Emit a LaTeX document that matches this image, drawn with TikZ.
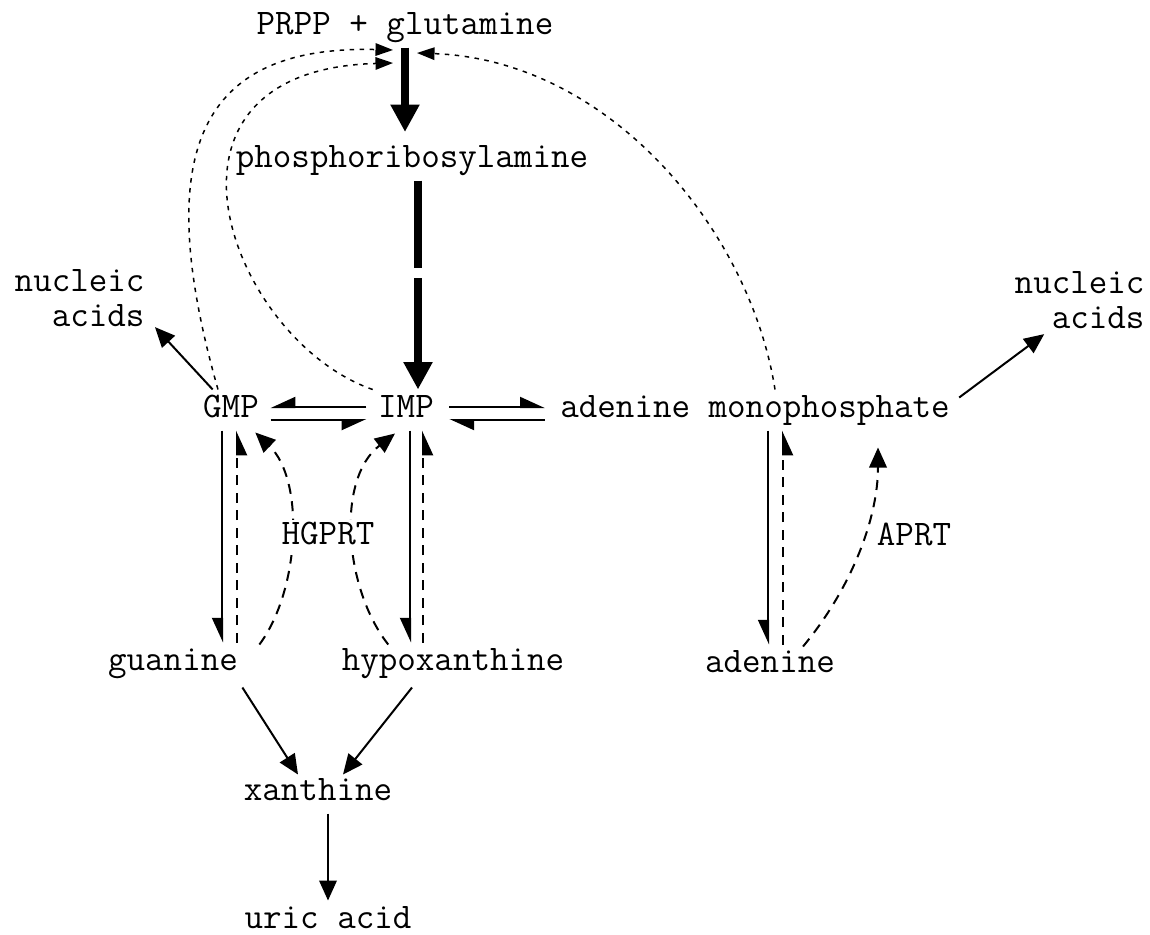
\documentclass[tikz,border=0pt]{standalone}
\usepackage{tikz}
\usetikzlibrary{arrows.meta, positioning, calc}

\begin{document}
\begin{tikzpicture}[x=0.4pt, y=-0.4pt,
    chem/.style={font=\ttfamily\fontsize{14.4}{14}\selectfont, inner sep=2pt, text height=9pt, text depth=3pt},
    chemml/.style={font=\ttfamily\fontsize{14.4}{14}\selectfont, inner sep=2pt, align=right},
    conv/.style={line width=0.8pt, -{Triangle[length=8pt,width=7pt]}},
    harp/.style={line width=0.8pt, shorten <=2.5pt, shorten >=2.5pt, -{Triangle[right,length=9pt,width=8pt]}},
    harpl/.style={line width=0.8pt, shorten <=4pt, shorten >=4pt, -{Triangle[left,length=9pt,width=8pt]}},
    harpv/.style={line width=0.8pt, -{Triangle[right,length=9pt,width=8pt]}},
    salv/.style={line width=0.8pt, dash pattern=on 4pt off 3pt, -{Triangle[length=8pt,width=7pt]}},
    salvh/.style={salv, -{Triangle[right,length=9pt,width=8pt]}},
    feedback/.style={line width=0.6pt, dash pattern=on 1.8pt off 2.2pt, -{Triangle[length=7pt,width=5pt]}},
    denovo/.style={line width=3.5pt, -{Triangle[length=11pt,width=11pt]}}]
    \useasboundingbox (0,0) rectangle (1150,934);
    % 代谢物
    \node[chem] (prpp) at (405,27) {PRPP + glutamine};
    \node[chem] (pra) at (412,160) {phosphoribosylamine};
    \node[chem] (gmp) at (231,410) {GMP};
    \node[chem] (imp) at (406,410) {IMP};
    \node[chem] (amp) at (755,410) {adenine monophosphate};
    \node[chemml, anchor=east] (nal) at (150,298) {nucleic\\acids};
    \node[chemml, anchor=east] (nar) at (1150,300) {nucleic\\acids};
    \node[chem] (gua) at (173,663) {guanine};
    \node[chem] (hyp) at (453,663) {hypoxanthine};
    \node[chem] (ade) at (770,665) {adenine};
    \node[chem] (xan) at (318,793) {xanthine};
    \node[chem] (uric) at (328,921) {uric acid};
    \node[chem] (aprt) at (914,538) {APRT};

    % 从头合成
    \draw[denovo, shorten >=3pt] (prpp.south) -- (prpp.south |- pra.north);
    \coordinate (gapT) at (418,268);
    \coordinate (gapB) at (418,278);
    \draw[line width=3.5pt] (gapT |- pra.south) -- (gapT);
    \draw[denovo] (gapB) -- (gapB |- imp.north);

    % 反馈抑制
    \coordinate (fbG) at (393,50);
    \coordinate (fbI) at (393,63);
    \coordinate (fbA) at (417,53);
    \draw[feedback] ($(gmp.north)+(-13,0)$) .. controls (150,150) and (200,45) .. (fbG);
    \draw[feedback] (imp.north west) .. controls (230,340) and (130,70) .. (fbI);
    \draw[feedback] ($(amp.north)+(20,0)$) .. controls (750,230) and (610,60) .. (fbA);

    \draw[conv] ($(gmp.north west)+(15,0)$) -- ($(nal.south east)+(5,-5)$);
    \draw[conv] ($(amp.north east)+(4,8)$) -- ($(nar.south west)+(35,0)$);

    % 可逆反应
    \draw[harp] ($(imp.west)+(0,-3)$) -- ($(gmp.east)+(0,-3)$);
    \draw[harp] ($(gmp.east)+(0,10)$) -- ($(imp.west)+(0,10)$);
    \draw[harpl] ($(imp.east)+(0,-3)$) -- ($(amp.west)+(0,-3)$);
    \draw[harpl] ($(amp.west)+(0,10)$) -- ($(imp.east)+(0,10)$);

    \coordinate (gD) at ($(gmp.south)+(-9,0)$);
    \coordinate (gU) at ($(gmp.south)+(6,0)$);
    \coordinate (iD) at ($(imp.south)+(4,0)$);
    \coordinate (iU) at ($(imp.south)+(17,0)$);
    \coordinate (aD) at ($(amp.south)+(13,0)$);
    \coordinate (aU) at ($(amp.south)+(28,0)$);
    \draw[harpv] (gD) -- (gD |- gua.north);
    \draw[salvh] (gU |- gua.north) -- (gU);
    \draw[harpv] (iD) -- (iD |- hyp.north);
    \draw[salvh] (iU |- hyp.north) -- (iU);
    \draw[harpv] (aD) -- (aD |- ade.north);
    \draw[salvh] (aU |- ade.north) -- (aU);

    % 补救途径
    \draw[salv] ($(gua.north east)+(16,2)$) .. controls (300,590) and (305,480) .. ($(gmp.south east)+(-9,2)$);
    \draw[salv] ($(hyp.north west)+(52,2)$) .. controls (345,590) and (335,480) .. ($(imp.south)+(-11,3)$);
    \draw[salv] ($(ade.north)+(33,2)$) .. controls (850,590) and (878,520) .. ($(amp.south)+(123,17)$);
    \node[chem, fill=white, inner sep=1pt] (hgprt) at (328,537) {HGPRT};

    % 分解
    \draw[conv] ($(gua.south east)+(-1,4)$) -- ($(xan.north)+(-20,2)$);
    \draw[conv] ($(hyp.south)+(-41,4)$) -- ($(xan.north)+(25,2)$);
    \draw[conv] (uric |- xan.south) -- (uric);
\end{tikzpicture}
\end{document}
